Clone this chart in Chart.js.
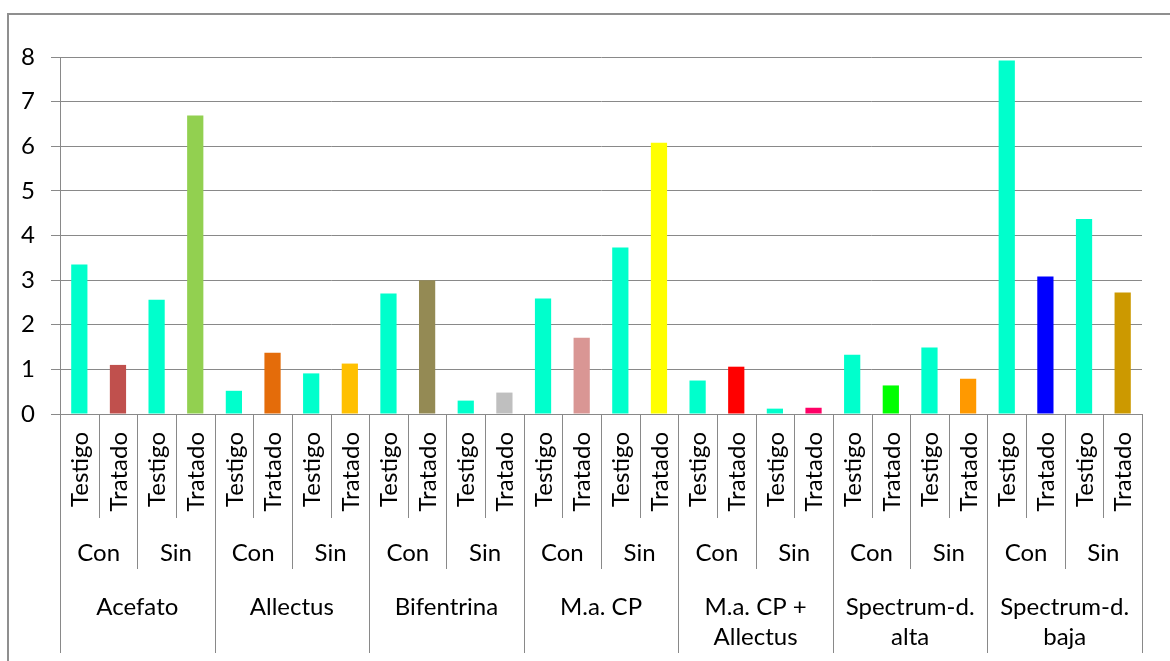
<!DOCTYPE html>
<html>
<head>
<meta charset="utf-8">
<script src="https://cdn.jsdelivr.net/npm/chart.js@4.4.1/dist/chart.umd.min.js"></script>
<style>
  html, body { margin: 0; padding: 0; background: #fff; overflow: hidden; }
  #frame { position: absolute; left: 7px; top: 13px; width: 1220px; height: 720px;
           border: 2px solid #8f8f8f; box-sizing: border-box; }
  #wrap { position: absolute; left: 0; top: 0; width: 1170px; height: 661px; }
</style>
</head>
<body>
<div id="frame"></div>
<div id="wrap"><canvas id="c" width="1170" height="661"></canvas></div>
<script>
// Category hierarchy: product > condition > treatment
const products = ['Acefato', 'Allectus', 'Bifentrina', 'M.a. CP',
                  ['M.a. CP +', 'Allectus'], ['Spectrum-d.', 'alta'], ['Spectrum-d.', 'baja']];
const conditions = ['Con', 'Sin'];
const treatments = ['Testigo', 'Tratado'];

// One value per bar, in product / condition / treatment order
const values = [
  3.35, 1.10, 2.56, 6.69,
  0.52, 1.37, 0.91, 1.13,
  2.70, 3.00, 0.30, 0.48,
  2.59, 1.71, 3.73, 6.08,
  0.75, 1.06, 0.12, 0.14,
  1.33, 0.64, 1.49, 0.79,
  7.92, 3.08, 4.37, 2.72
];

const testigoColor = '#00FFCC';
// Colours of the "Tratado" bars, one per product/condition pair
const tratadoColors = [
  '#C0504D', '#92D050',
  '#E46C0A', '#FFC000',
  '#948A54', '#BFBFBF',
  '#D99694', '#FFFF00',
  '#FF0000', '#FF0066',
  '#00FF00', '#FF9900',
  '#0000FF', '#CC9900'
];

const yMin = 0, yMax = 8, yStep = 1;

// Flat labels and colours built from the hierarchy
const labels = [];
const colors = [];
products.forEach((p, pi) => {
  conditions.forEach((c, ci) => {
    treatments.forEach((t, ti) => {
      labels.push(t);
      colors.push(ti === 0 ? testigoColor : tratadoColors[pi * 2 + ci]);
    });
  });
});

const FONT = 'Lato, "DejaVu Sans", sans-serif';
const FONT_SIZE = 24;
const LINE = '#898989';

// Draws the three-level category axis under the plot
const groupAxis = {
  id: 'groupAxis',
  afterDraw(chart) {
    const ctx = chart.ctx;
    const x = chart.scales.x;
    const area = chart.chartArea;
    const n = labels.length;
    const w = (area.right - area.left) / n;
    const y0 = area.bottom;
    const row1 = 518, row2 = 569, row3 = 653;

    ctx.save();
    ctx.strokeStyle = LINE;
    ctx.lineWidth = 1;
    for (let i = 0; i <= n; i++) {
      const bx = Math.round(area.left + i * w) + 0.5;
      let yEnd = row1;
      if (i % 4 === 0) yEnd = row3;
      else if (i % 2 === 0) yEnd = row2;
      ctx.beginPath();
      ctx.moveTo(bx, y0);
      ctx.lineTo(bx, yEnd);
      ctx.stroke();
    }

    ctx.fillStyle = '#000';
    ctx.font = FONT_SIZE + 'px ' + FONT;

    // treatment labels, rotated
    for (let i = 0; i < n; i++) {
      const cx = x.getPixelForValue(i);
      ctx.save();
      ctx.translate(cx, 432);
      ctx.rotate(-Math.PI / 2);
      ctx.textAlign = 'right';
      ctx.textBaseline = 'middle';
      ctx.fillText(labels[i], 0, 1);
      ctx.restore();
    }

    // condition labels
    ctx.textAlign = 'center';
    ctx.textBaseline = 'middle';
    for (let g = 0; g < n / 2; g++) {
      const cx = area.left + (g * 2 + 1) * w;
      ctx.fillText(conditions[g % 2], cx, 553);
    }

    // product labels
    products.forEach((p, pi) => {
      const cx = area.left + (pi * 4 + 2) * w;
      const lines = Array.isArray(p) ? p : [p];
      lines.forEach((ln, li) => ctx.fillText(ln, cx, 607 + li * 30));
    });
    ctx.restore();
  }
};

new Chart(document.getElementById('c'), {
  type: 'bar',
  data: {
    labels: labels,
    datasets: [{
      data: values,
      backgroundColor: colors,
      borderWidth: 0,
      barPercentage: 0.42,
      categoryPercentage: 1
    }]
  },
  options: {
    responsive: false,
    animation: false,
    devicePixelRatio: 1,
    layout: { padding: { left: 0, top: 57, right: 28, bottom: 247 } },
    plugins: { legend: { display: false }, tooltip: { enabled: false } },
    scales: {
      x: { display: false },
      y: {
        min: yMin, max: yMax,
        afterFit(scale) { scale.width = 60; },
        ticks: { stepSize: yStep, color: '#000', padding: 16, font: { family: FONT, size: FONT_SIZE } },
        grid: { color: LINE, lineWidth: 1, tickLength: 9 },
        border: { color: LINE, width: 1 }
      }
    }
  },
  plugins: [groupAxis]
});
</script>
</body>
</html>
